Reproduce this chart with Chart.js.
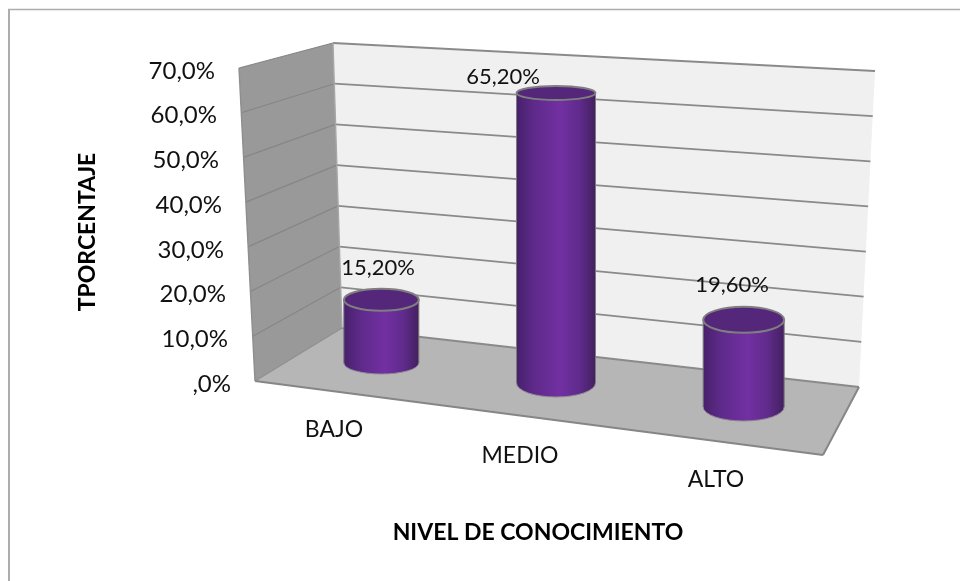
<!DOCTYPE html>
<html><head><meta charset="utf-8">
<style>html,body{margin:0;padding:0;background:#fff}#w{width:960px;height:581px}canvas{display:block}</style>
<script src="https://cdn.jsdelivr.net/npm/chart.js@4"></script>
</head><body><div id="w"><canvas id="c" width="960" height="581"></canvas></div>
<script>
const categories = ['BAJO','MEDIO','ALTO'];
const values = [15.2,65.2,19.6];
const valueLabels = ['15,20%','65,20%','19,60%'];
const yTickValues = [0,10,20,30,40,50,60,70];
const yTitle = 'TPORCENTAJE';
const xTitle = 'NIVEL DE CONOCIMIENTO';

// 3D look: projection of each category onto the floor
const barDx = [32,18,17], barDy = [-18,2,26], barW = [75,79,81], barK = [0.93,0.995,0.995];
const topRy = [11,7,13], botRy = [11,14,14];
const labelPos = [[378,268],[503,77],[732,285]];
const catPos = [[334,430],[520,456],[716,480]];
const yLabelRight = [231,228,226,224,222,219,217,215];
const FONT = 'Lato, Carlito, sans-serif';
const P = {ftl:[239,68],btl:[333,43],btr:[875,71],fbl:[255,381],bbl:[342,328],bbr:[859,387],fbr:[823,455]};
const lerp=(a,b,t)=>[a[0]+(b[0]-a[0])*t,a[1]+(b[1]-a[1])*t];
function poly(ctx,pts,fill){ctx.beginPath();pts.forEach((p,i)=>i?ctx.lineTo(p[0],p[1]):ctx.moveTo(p[0],p[1]));ctx.closePath();ctx.fillStyle=fill;ctx.fill();}
function line(ctx,a,b,col,w){ctx.beginPath();ctx.moveTo(a[0],a[1]);ctx.lineTo(b[0],b[1]);ctx.strokeStyle=col;ctx.lineWidth=w;ctx.stroke();}
function grad(ctx,x,w){const g=ctx.createLinearGradient(x-w/2,0,x+w/2,0);
 g.addColorStop(0,'#47206b');g.addColorStop(0.22,'#5e2a8a');g.addColorStop(0.55,'#7230a2');g.addColorStop(0.8,'#5f2b8b');g.addColorStop(1,'#43205f');return g;}

const scene = {
 id:'scene',
 afterDatasetsUpdate(chart){
  chart.getDatasetMeta(0).data.forEach((el,i)=>{
   const h=(el.base-el.y)*barK[i];
   el.x+=barDx[i]; el.base+=barDy[i]; el.y=el.base-h; el.width=barW[i];
  });
 },
 beforeDraw(chart){
  const {ctx}=chart,ys=chart.scales.y,xs=chart.scales.x;
  ctx.save();
  line(ctx,[8,9.5],[960,9.5],'#adadad',1.6);
  line(ctx,[9,9],[9,581],'#adadad',2);
  ctx.restore();
  ys.getLabelItems(chart.chartArea).forEach((it,i)=>{
   it.options.translation=[yLabelRight[i],ys.getPixelForValue(yTickValues[i])+3];
   it.options.textAlign='right';
  });
  xs.getLabelItems(chart.chartArea).forEach((it,i)=>{
   it.options.translation=[catPos[i][0],catPos[i][1]];
   it.options.textAlign='center';it.options.textBaseline='middle';it.textOffset=0;
  });
  if(!ys._shifted){ys._shifted=true;const o=ys.drawTitle;ys.drawTitle=function(a){ctx.save();ctx.translate(0,7.5);o.call(this,a);ctx.restore();};}
 },
 beforeDatasetsDraw(chart){
  const {ctx}=chart,ys=chart.scales.y;
  ctx.save();
  poly(ctx,[P.btl,P.btr,P.bbr,P.bbl],'#f0f0f0');
  poly(ctx,[P.ftl,P.btl,P.bbl,P.fbl],'#999999');
  poly(ctx,[P.fbl,P.bbl,P.bbr,P.fbr],'#b6b6b6');
  yTickValues.forEach(v=>{
   const t=(ys.getPixelForValue(0)-ys.getPixelForValue(v))/(ys.getPixelForValue(0)-ys.getPixelForValue(70));
   const a=lerp(P.fbl,P.ftl,t),b=lerp(P.bbl,P.btl,t),c=lerp(P.bbr,P.btr,t);
   if(v>0){line(ctx,a,b,'#868686',1.2);}
   line(ctx,b,c,'#8a8a8a',1.8);
  });
  line(ctx,P.ftl,P.fbl,'#8e8e8e',1.4);
  line(ctx,P.btl,P.bbl,'#a8a8a8',1.4);
  line(ctx,P.fbl,P.fbr,'#868686',2);
  line(ctx,P.fbr,P.bbr,'#868686',2);
  line(ctx,P.fbl,P.bbl,'#8e8e8e',1.2);
  // cylinder bottoms sit under the bar bodies
  chart.getDatasetMeta(0).data.forEach((el,i)=>{
   ctx.beginPath();ctx.ellipse(el.x,el.base,el.width/2,botRy[i],0,0,Math.PI*2);
   ctx.fillStyle=grad(ctx,el.x,el.width);ctx.fill();
   ctx.beginPath();ctx.ellipse(el.x,el.base,el.width/2,botRy[i],0,0,Math.PI);
   ctx.strokeStyle='#8f8a96';ctx.lineWidth=1;ctx.stroke();
  });
  ctx.restore();
 },
 afterDatasetsDraw(chart){
  const {ctx}=chart;
  ctx.save();
  chart.getDatasetMeta(0).data.forEach((el,i)=>{
   const hw=el.width/2;
   line(ctx,[el.x-hw,el.y],[el.x-hw,el.base],'#7b7b7b',1);
   line(ctx,[el.x+hw,el.y],[el.x+hw,el.base],'#7b7b7b',1);
   ctx.beginPath();ctx.ellipse(el.x,el.y,hw,topRy[i],0,0,Math.PI*2);
   ctx.fillStyle='#55277b';ctx.fill();
   ctx.strokeStyle='#7f7f7f';ctx.lineWidth=2;ctx.stroke();
   ctx.fillStyle='#111';ctx.font='22px '+FONT;ctx.textAlign='center';ctx.textBaseline='middle';
   ctx.fillText(valueLabels[i],labelPos[i][0],labelPos[i][1]);
  });
  ctx.restore();
 }
};

new Chart(document.getElementById('c'),{
 type:'bar',
 data:{labels:categories,datasets:[{data:values,borderWidth:0,clip:false,
  backgroundColor:c=>{const s=c.chart.scales.x,i=c.dataIndex;
    const x=s?s.getPixelForValue(i)+barDx[i]:NaN;
    return Number.isFinite(x)?grad(c.chart.ctx,x,barW[i]):'#7030a0';}}]},
 plugins:[scene],
 options:{
  responsive:false,animation:false,
  layout:{padding:{left:0,top:68,right:139,bottom:0}},
  plugins:{legend:{display:false},tooltip:{enabled:false},title:{display:false}},
  scales:{
   y:{min:0,max:70,grid:{display:false},border:{display:false},
    afterBuildTicks:s=>{s.ticks=yTickValues.map(v=>({value:v}));},
    ticks:{color:'#111',font:{family:FONT,size:24},
     callback:v=>v===0?',0%':v.toFixed(1).replace('.',',')+'%'},
    afterFit:s=>{s.width=255;},
    title:{display:true,text:yTitle,color:'#000',font:{family:FONT,size:23,weight:'bold'},padding:{top:74,bottom:0}}},
   x:{grid:{display:false},border:{display:false},
    ticks:{color:'#111',font:{family:FONT,size:23},maxRotation:0},
    afterFit:s=>{s.height=200;},
    title:{display:true,text:xTitle,color:'#000',font:{family:FONT,size:23,weight:'bold'},padding:{top:0,bottom:35}}}
  }
 }
});
</script></body></html>
